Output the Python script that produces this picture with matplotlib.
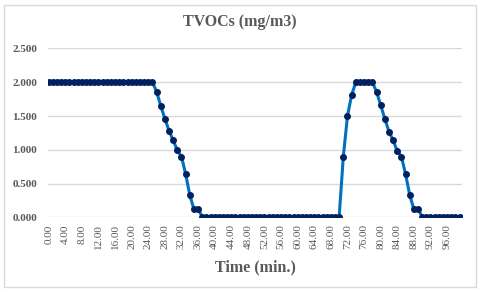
#TVOCs chart recreation
#Import needed packages
import numpy as np
import matplotlib.pyplot as plt
from matplotlib.patches import Rectangle

#Data (one reading per minute)
time_min = list(range(0, 100))
plateau1 = [2.0] * 26
descent1 = [1.86, 1.65, 1.46, 1.28, 1.14, 0.99, 0.90, 0.64, 0.33, 0.12, 0.12, 0.01]
low1 = [0.010, 0.008, 0.010, 0.008, 0.005, 0.008, 0.010, 0.010, 0.008, 0.010,
        0.010, 0.008, 0.005, 0.005, 0.008, 0.008, 0.010, 0.010, 0.008, 0.010,
        0.008, 0.010, 0.008, 0.005, 0.010, 0.008, 0.010, 0.008, 0.005, 0.008,
        0.005, 0.008, 0.010]
rise = [0.90, 1.50, 1.81]
plateau2 = [2.0] * 5
descent2 = [1.86, 1.66, 1.46, 1.27, 1.14, 0.98, 0.90, 0.64, 0.33, 0.12, 0.12, 0.01]
low2 = [0.010, 0.008, 0.010, 0.005, 0.008, 0.010, 0.008, 0.010, 0.008]
tvocs = plateau1 + descent1 + low1 + rise + plateau2 + descent2 + low2

xtick_vals = list(range(0, 100, 4))
ytick_vals = [0.0, 0.5, 1.0, 1.5, 2.0, 2.5]

#Colours and fonts
gray_text = '#595959'
line_blue = '#0070C0'
marker_navy = '#002060'
plt.rcParams['font.family'] = ['Liberation Serif', 'DejaVu Serif']

fig = plt.figure(figsize=(4.8, 2.92), dpi=100)
ax = fig.add_axes([0.1006, 0.2558, 0.8619, 0.5782])

#Chart area border
fig.patches.append(Rectangle((4 / 480, 5 / 292), 472 / 480, 282 / 292,
                             transform=fig.transFigure, fill=False,
                             edgecolor='#D9D9D9', linewidth=1))

#Plot the line with markers
ax.plot(time_min, tvocs, color=line_blue, linewidth=2.2, marker='o',
        markersize=4, markerfacecolor=marker_navy, markeredgecolor=marker_navy,
        zorder=3)

#Axis limits and ticks
ax.set_xlim(-0.1, 99.6)
ax.set_ylim(0, 2.5)
ax.set_yticks(ytick_vals)
ax.set_yticklabels([f"{v:.3f}" for v in ytick_vals], fontsize=8,
                   fontweight='bold', color=gray_text)
ax.set_xticks(xtick_vals)
ax.set_xticklabels([f"{v:.2f}" for v in xtick_vals], rotation=90, fontsize=8,
                   color=gray_text)
ax.tick_params(axis='both', length=0)
ax.tick_params(axis='y', pad=8)
ax.tick_params(axis='x', pad=5)

#Gridlines and spines
ax.grid(axis='y', color='#D9D9D9', linewidth=1)
ax.set_axisbelow(True)
for side in ['top', 'right', 'left', 'bottom']:
    ax.spines[side].set_visible(False)

#Titles
fig.text(0.5, 1 - 22.5 / 292, 'TVOCs (mg/m3)', ha='center', va='center',
         fontsize=11.5, fontweight='bold', color=gray_text)
ax.set_xlabel('Time (min.)', fontsize=11.5, fontweight='bold', color=gray_text,
              labelpad=7)

#Save chart
fig.savefig('out.png', dpi=100)
